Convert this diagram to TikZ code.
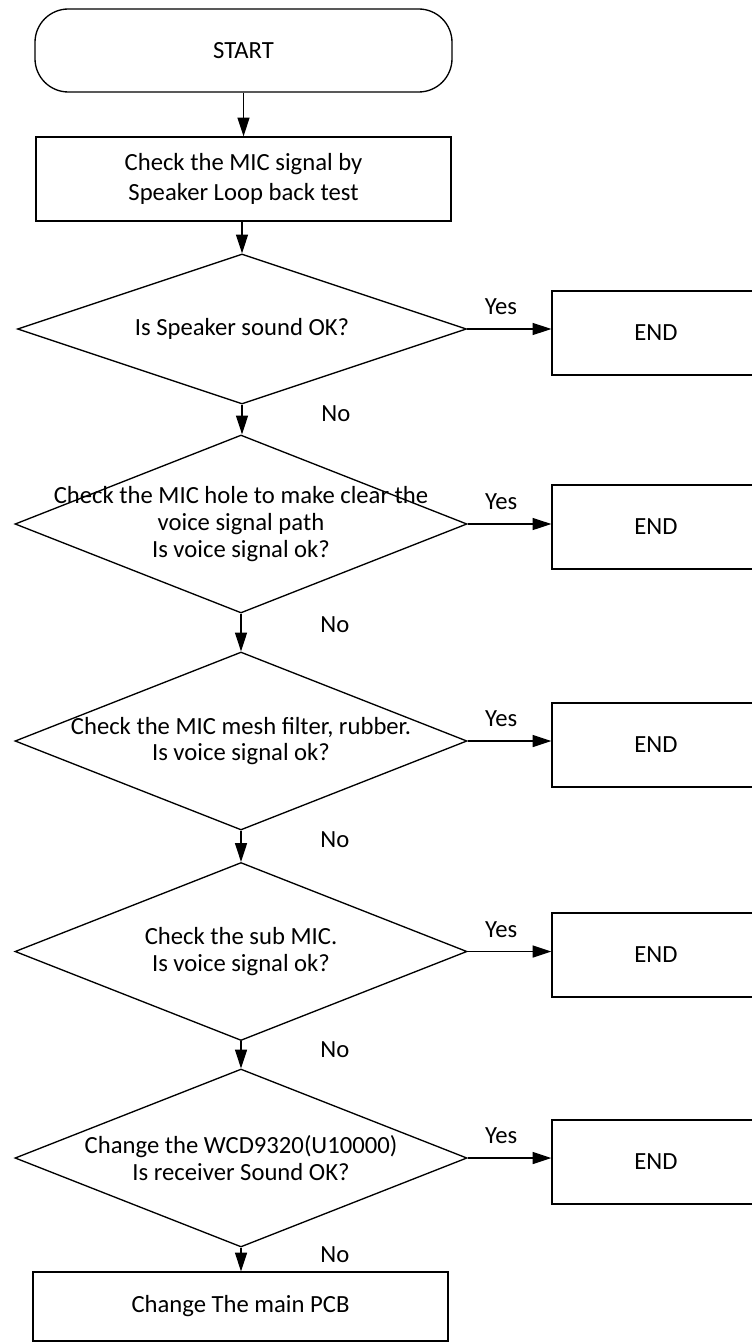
\documentclass[tikz,border=0pt]{standalone}
\usepackage{fontspec}
\setmainfont{Carlito}
\usetikzlibrary{shapes.geometric,arrows.meta}

\tikzset{
  base/.style={draw, line width=1pt, inner sep=0pt, font=\fontsize{18.5}{20}\selectfont},
  startbox/.style={base, rounded corners=25pt, minimum width=312.75pt, minimum height=62.25pt},
  procbox/.style={base, align=center, minimum width=311.25pt, minimum height=63pt},
  decision/.style={base, diamond, minimum width=339pt, minimum height=133.5pt},
  endbox/.style={base, minimum width=156pt, minimum height=63pt},
  txt/.style={inner sep=0pt, align=center, font=\fontsize{18.5}{20}\selectfont},
  lbl/.style={inner sep=0pt, font=\fontsize{18.5}{20}\selectfont},
  arr/.style={line width=1pt, -{Triangle[length=14pt,width=9pt]}}
}

\begin{document}
\begin{tikzpicture}[x=0.75pt, y=-0.75pt]
  \useasboundingbox (0,0) rectangle (751,1344);
  \node[startbox] (start) at (243.5,50.5) {START};
  \node[procbox] (check) at (243.5,179) {Check the MIC signal by\\[3pt]Speaker Loop back test};
  % decisions
  \node[decision, minimum width=336.75pt, minimum height=112.5pt] (d1) at (242,329) {};
  \node[decision] (d2) at (241,524) {};
  \node[decision] (d3) at (241,741) {};
  \node[decision] (d4) at (241,951.5) {};
  \node[decision] (d5) at (241,1158) {};
  \node[txt] (t1) at (d1) {Is Speaker sound OK?};
  \node[txt] (t2) at (d2) {Check the MIC hole to make clear the\\voice signal path\\Is voice signal ok?};
  \node[txt] (t3) at (d3) {Check the MIC mesh filter, rubber.\\Is voice signal ok?};
  \node[txt] (t4) at (d4) {Check the sub MIC.\\Is voice signal ok?};
  \node[txt] (t5) at (d5) {Change the WCD9320(U10000)\\Is receiver Sound OK?};
  \node[procbox, minimum height=51.75pt] (final) at (240.5,1306.5) {Change The main PCB};

  \draw[arr] (start.south) -- (check.north);
  \draw[arr] (check.south -| d1.north) -- (d1.north);
  \foreach \a/\b in {d1/d2, d2/d3, d3/d4, d4/d5, d5/final} {
    \draw[arr] (\a.south) -- node[lbl, pos=0.3, right=59pt] (no\a) {No} (\a.south |- \b.north);
  }
  \foreach \i/\yy in {1/333, 2/527, 3/745, 4/955, 5/1162} {
    \node[endbox] (end\i) at (656,\yy) {END};
    \draw[arr] (d\i.east) -- node[lbl, pos=0.4, above=10pt] (yes\i) {Yes} (d\i.east -| end\i.west);
  }
\end{tikzpicture}
\end{document}
